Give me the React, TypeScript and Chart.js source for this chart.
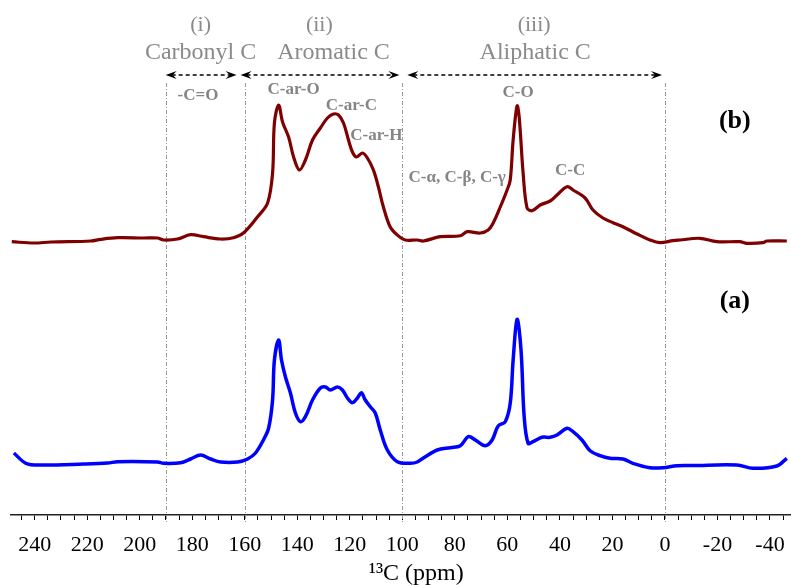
import React, { useEffect, useRef } from "react";
import { Chart, registerables } from "chart.js";

Chart.register(...registerables);

// Spectrum (b) – red
const ppmB = [248.7, 240.3, 233.8, 218.6, 214.8, 208.4, 198.5, 193.2, 190.9, 185.6, 180.6, 175.7, 169.2, 164.3, 160.5, 155.1, 151.3, 149.4, 148.7, 147.1, 145.6, 143.3, 141.4, 139.2, 136.9, 134.2, 131.2, 128.5, 126.2, 124.3, 122.4, 120.5, 119.0, 117.5, 115.2, 113.3, 111.0, 109.1, 107.2, 104.6, 101.9, 98.9, 94.3, 92.0, 85.6, 77.9, 75.3, 70.3, 67.3, 65.4, 62.7, 60.1, 58.9, 57.8, 56.3, 55.5, 54.0, 52.5, 50.6, 47.5, 43.7, 41.1, 37.3, 35.0, 30.4, 27.4, 23.6, 19.8, 16.0, 10.6, 5.7, 1.9, -3.0, -5.7, -13.3, -19.8, -28.5, -31.2, -37.3, -38.8, -46.4];
const intensityB = [273.3, 272, 273, 274, 275.7, 277.3, 277, 277, 275, 276, 280.3, 278.3, 276, 277.3, 282, 298.3, 312, 342, 392, 410, 393, 378, 358, 345, 355, 375, 387, 397, 401, 400, 392, 375, 363, 358, 362, 357, 345, 328, 308, 288, 280, 275, 275, 274, 278.3, 279.3, 283.3, 282, 285, 292, 308, 325, 335, 375, 409, 398, 342, 307, 304.3, 310, 314, 320, 328.3, 325, 317, 305, 297, 292.3, 288.3, 281, 275, 272.3, 274.3, 275, 276.7, 273.3, 273.3, 271.7, 272.3, 274, 274];

// Spectrum (a) – blue
const ppmA = [247.9, 243.3, 237.6, 221.3, 212.2, 208.4, 193.2, 190.9, 184.4, 180.6, 176.8, 173.0, 169.2, 162.7, 158.9, 155.9, 152.9, 150.9, 149.4, 148.7, 147.1, 146.0, 144.5, 142.6, 140.7, 138.8, 136.9, 134.2, 131.2, 129.3, 127.4, 124.7, 122.8, 120.9, 119.0, 117.1, 115.6, 114.1, 112.2, 110.3, 108.4, 105.7, 101.9, 97.0, 94.3, 92.0, 86.7, 81.7, 77.9, 74.9, 72.2, 68.4, 65.8, 63.5, 60.8, 58.9, 57.8, 56.3, 54.8, 53.6, 52.1, 50.2, 46.8, 43.7, 41.1, 37.3, 35.0, 31.6, 28.5, 24.7, 20.9, 16.0, 12.2, 5.7, 0.8, -4.6, -10.6, -27.4, -33.5, -42.6, -46.4];
const intensityA = [62, 51.7, 50, 51, 52, 53.3, 53, 51.7, 52.3, 56, 60, 56, 53, 53, 56, 62, 75, 87, 115, 155, 175, 155, 138, 122, 102, 93.3, 98.3, 115, 127, 128, 125, 128, 125, 117, 112.3, 117, 122.3, 115, 108.3, 102, 85, 65, 53.3, 51.7, 53, 57, 65, 67.3, 69.3, 78.3, 75, 69.3, 75, 89, 93.3, 112, 155, 195.7, 165, 98.3, 71.7, 73.3, 77.7, 77.7, 80, 86.7, 83.3, 75, 64.3, 59.3, 56.7, 56, 51.7, 47.3, 47.3, 49.3, 49.5, 50, 46.7, 49, 56.7];

// Axis tick labels
const majorTicks = [240, 220, 200, 180, 160, 140, 120, 100, 80, 60, 40, 20, 0, -20, -40];

// Region boundaries (ppm)
const regionLines = [190, 160, 100, 0];
const regionArrows = [
  [190.1, 163.1],
  [161.6, 101.1],
  [98.1, 1.1],
];
const regionHeaders = ["(i)", "(ii)", "(iii)"];
const regionNames = ["Carbonyl C", "Aromatic C", "Aliphatic C"];
const headerPpm = [176.8, 131.6, 49.8];
const namePpm = [176.8, 126.2, 49.4];

// Peak labels
const peakLabels = ["-C=O", "C-ar-O", "C-ar-C", "C-ar-H", "C-α, C-β, C-γ", "C-O", "C-C"];
const peakPpm = [177.8, 141.4, 119.4, 109.9, 79.1, 55.9, 36.1];
const peakBaseline = [415, 421, 405, 375, 333, 418, 340];

const seriesLabels = ["(b)", "(a)"];
const seriesBaseline = [387, 207];

const SERIF = "'Liberation Serif', 'DejaVu Serif', serif";

const annotationPlugin = {
  id: "nmrAnnotations",
  beforeDatasetsDraw(chart: any) {
    const { ctx, scales } = chart;
    const x = scales.x;
    const y = scales.y;
    ctx.save();
    ctx.strokeStyle = "#9a9a9a";
    ctx.lineWidth = 1;
    ctx.setLineDash([4, 2, 1, 2]);
    const top = y.getPixelForValue(432);
    const bottom = y.getPixelForValue(-7);
    regionLines.forEach((p) => {
      const px = Math.round(x.getPixelForValue(p)) + 0.5;
      ctx.beginPath();
      ctx.moveTo(px, top);
      ctx.lineTo(px, bottom);
      ctx.stroke();
    });
    ctx.restore();
  },
  afterDraw(chart: any) {
    const { ctx, scales } = chart;
    const x = scales.x;
    const y = scales.y;
    ctx.save();
    // arrows
    const ay = y.getPixelForValue(440);
    regionArrows.forEach(([a, b]) => {
      const x1 = x.getPixelForValue(a);
      const x2 = x.getPixelForValue(b);
      ctx.strokeStyle = "#000";
      ctx.lineWidth = 1.4;
      ctx.setLineDash([4, 3]);
      ctx.beginPath();
      ctx.moveTo(x1 + 6, ay);
      ctx.lineTo(x2 - 6, ay);
      ctx.stroke();
      ctx.setLineDash([]);
      ctx.fillStyle = "#000";
      const head = (tip: number, dir: number) => {
        ctx.beginPath();
        ctx.moveTo(tip, ay);
        ctx.lineTo(tip + dir * 11, ay - 4);
        ctx.lineTo(tip + dir * 7, ay);
        ctx.lineTo(tip + dir * 11, ay + 4);
        ctx.closePath();
        ctx.fill();
      };
      head(x1, 1);
      head(x2, -1);
    });

    ctx.textAlign = "center";
    ctx.textBaseline = "alphabetic";
    ctx.fillStyle = "#8a8a8a";
    ctx.font = `22px ${SERIF}`;
    regionHeaders.forEach((t, i) => {
      ctx.fillText(t, x.getPixelForValue(headerPpm[i]), y.getPixelForValue(484));
    });
    ctx.font = `24px ${SERIF}`;
    regionNames.forEach((t, i) => {
      ctx.fillText(t, x.getPixelForValue(namePpm[i]), y.getPixelForValue(456));
    });

    ctx.fillStyle = "#858585";
    ctx.font = `bold 17px ${SERIF}`;
    peakLabels.forEach((t, i) => {
      ctx.fillText(t, x.getPixelForValue(peakPpm[i]), y.getPixelForValue(peakBaseline[i]));
    });

    ctx.fillStyle = "#000";
    ctx.font = `bold 26px ${SERIF}`;
    seriesLabels.forEach((t, i) => {
      ctx.fillText(t, x.getPixelForValue(-26.6), y.getPixelForValue(seriesBaseline[i]));
    });

    // axis title
    ctx.font = `24px ${SERIF}`;
    ctx.fillText("¹³C (ppm)", x.getPixelForValue(94.7), 580);
    ctx.restore();
  },
};

export default function App() {
  const ref = useRef<HTMLCanvasElement | null>(null);
  useEffect(() => {
    document.body.style.margin = "0";
    const canvas = ref.current;
    if (!canvas) return;
    const toPoints = (xs: number[], ys: number[]) => xs.map((v, i) => ({ x: v, y: ys[i] }));
    const chart = new Chart(canvas, {
      type: "line",
      data: {
        datasets: [
          {
            label: "(b)",
            data: toPoints(ppmB, intensityB),
            borderColor: "#7f0000",
            borderWidth: 3.2,
            pointRadius: 0,
            tension: 0.35,
            fill: false,
          },
          {
            label: "(a)",
            data: toPoints(ppmA, intensityA),
            borderColor: "#0000ff",
            borderWidth: 3.5,
            pointRadius: 0,
            tension: 0.35,
            fill: false,
          },
        ],
      },
      options: {
        responsive: false,
        animation: false,
        layout: { padding: { left: 11, right: 0, top: 0, bottom: 0 } },
        plugins: {
          legend: { display: false },
          tooltip: { enabled: false },
          title: { display: false },
        },
        scales: {
          x: {
            type: "linear",
            reverse: true,
            min: -48,
            max: 249,
            afterBuildTicks: (s: any) => {
              const t: { value: number }[] = [];
              for (let v = -45; v <= 245; v += 5) t.push({ value: v });
              s.ticks = t;
            },
            afterFit: (s: any) => {
              s.height = 70;
            },
            ticks: {
              autoSkip: false,
              maxRotation: 0,
              minRotation: 0,
              padding: 12,
              color: "#000",
              font: { family: SERIF, size: 22 },
              callback: (v: any) => (majorTicks.includes(Number(v)) ? String(v) : ""),
            },
            grid: {
              drawOnChartArea: false,
              drawTicks: true,
              tickLength: 5,
              color: "#000",
              lineWidth: 1,
            },
            border: { display: true, color: "#222", width: 1.5 },
          },
          y: {
            display: false,
            min: 0,
            max: 515,
          },
        },
      },
      plugins: [annotationPlugin],
    });
    return () => chart.destroy();
  }, []);
  return (
    <div style={{ width: 791, height: 585 }}>
      <canvas ref={ref} width={791} height={585} />
    </div>
  );
}
